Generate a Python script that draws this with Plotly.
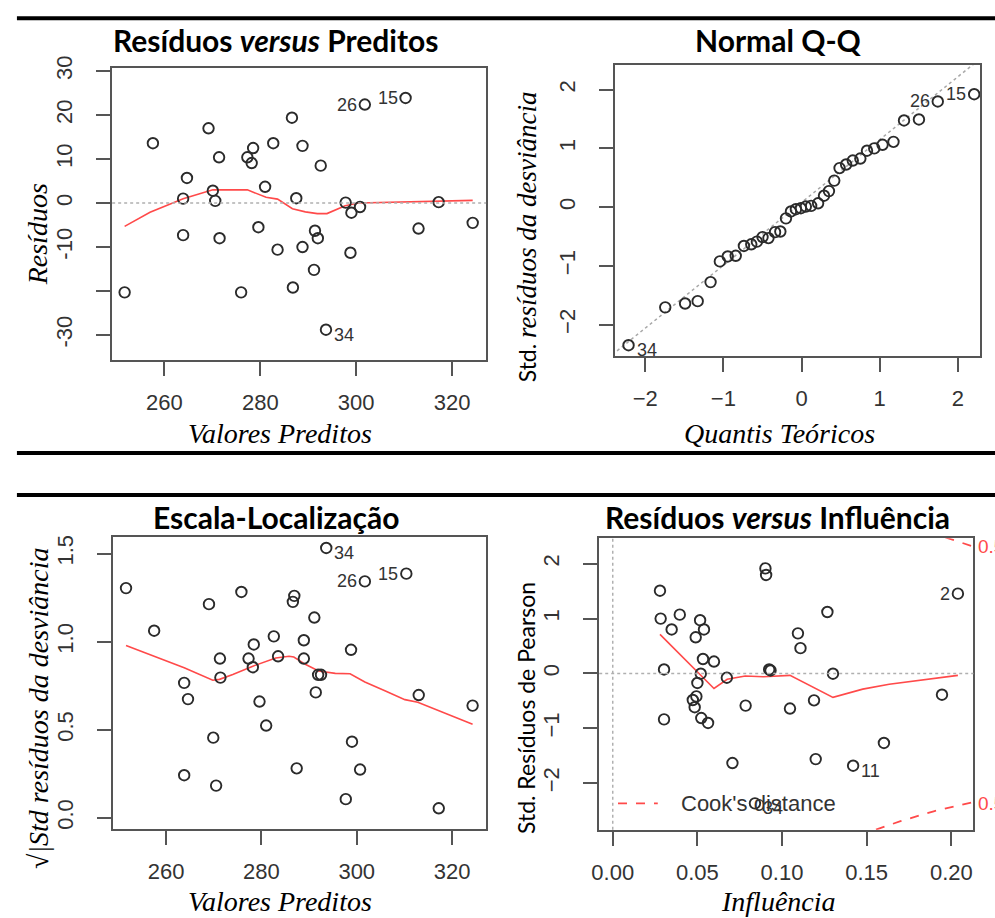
import plotly.graph_objects as go

W, H = 995, 918

# ---------------- Panel 1: Resíduos versus Preditos ----------------
p1_fitted = [251.7, 257.6, 263.9, 263.9, 264.7, 269.2, 270.1, 270.6, 271.4, 271.5, 276.0, 277.3,
             278.2, 278.5, 279.6, 281.0, 282.7, 283.6, 286.6, 286.8, 287.5, 288.8, 288.8, 291.2,
             291.4, 292.0, 292.6, 293.7, 297.8, 298.8, 299.0, 300.8, 301.8, 310.3, 313.0, 317.2, 324.3]
p1_resid = [-20.3, 13.6, 1.0, -7.3, 5.7, 17.0, 2.8, 0.5, 10.4, -8.0, -20.3, 10.4,
            9.1, 12.5, -5.5, 3.7, 13.6, -10.6, 19.4, -19.2, 1.1, 13.0, -10.0, -15.2,
            -6.3, -8.0, 8.5, -28.8, 0.1, -11.3, -2.2, -0.9, 22.4, 23.9, -5.8, 0.2, -4.5]
p1_smooth_x = [251.7, 257.0, 263.9, 270.1, 277.3, 281.2, 283.6, 286.7, 289.4, 291.9, 293.9,
               297.7, 300.5, 311.5, 317.0, 324.3]
p1_smooth_y = [-5.3, -2.1, 1.0, 3.0, 3.0, 1.3, 0.9, -1.3, -2.0, -2.4, -2.4, -0.6, 0.0, 0.2, 0.4, 0.6]
p1_labels = ["34", "26", "15"]
p1_label_idx = [27, 32, 33]
p1_label_side = ["right", "left", "left"]
p1_yticks = [-30, -20, -10, 0, 10, 20, 30]
p1_yticktext = ["-30", "", "-10", "0", "10", "20", "30"]
p1_xticks = [260, 280, 300, 320]

# ---------------- Panel 2: Normal Q-Q ----------------
p2_theor = [-2.214, -1.744, -1.49, -1.329, -1.164, -1.045, -0.944, -0.842, -0.737, -0.643, -0.571,
            -0.499, -0.423, -0.339, -0.271, -0.199, -0.135, -0.072, -0.008, 0.055, 0.123, 0.212,
            0.288, 0.351, 0.419, 0.487, 0.571, 0.656, 0.753, 0.838, 0.931, 1.037, 1.177, 1.312,
            1.503, 1.744, 2.21]
p2_std = [-2.35, -1.706, -1.64, -1.60, -1.276, -0.923, -0.839, -0.828, -0.660, -0.632, -0.587,
          -0.509, -0.526, -0.425, -0.414, -0.190, -0.073, -0.034, -0.017, 0.011, 0.022, 0.067,
          0.196, 0.274, 0.453, 0.666, 0.727, 0.794, 0.828, 0.962, 1.001, 1.063, 1.113, 1.477,
          1.494, 1.801, 1.924]
p2_labels = ["34", "26", "15"]
p2_label_idx = [0, 35, 36]
p2_label_side = ["right", "left", "left"]
p2_qqline_intercept = 0.08
p2_qqline_slope = 1.07
p2_ticks = [-2, -1, 0, 1, 2]

# ---------------- Panel 3: Escala-Localização ----------------
p3_fitted = [251.6, 257.5, 263.8, 264.6, 263.8, 269.0, 269.9, 270.5, 271.3, 271.4, 275.8, 277.3,
             278.4, 278.2, 279.6, 281.0, 282.6, 283.5, 286.9, 286.6, 287.4, 288.9, 288.9, 291.1,
             291.4, 291.9, 292.5, 293.6, 297.7, 298.8, 299.0, 300.7, 301.7, 310.4, 313.0, 317.2, 324.3]
p3_sqrt = [1.304, 1.062, 0.766, 0.674, 0.242, 1.213, 0.455, 0.183, 0.904, 0.796, 1.282, 0.904,
           0.984, 0.855, 0.660, 0.524, 1.030, 0.917, 1.260, 1.226, 0.281, 1.008, 0.904, 1.137,
           0.712, 0.812, 0.812, 1.532, 0.106, 0.954, 0.432, 0.274, 1.342, 1.386, 0.697, 0.054, 0.637]
p3_smooth_x = [251.6, 257.4, 263.8, 269.8, 271.2, 274.0, 278.2, 283.0, 285.8, 286.8, 289.3, 292.0,
               295.5, 298.6, 301.7, 305.9, 310.1, 312.8, 317.0, 324.3]
p3_smooth_y = [0.978, 0.917, 0.852, 0.781, 0.786, 0.814, 0.861, 0.907, 0.917, 0.913, 0.870, 0.833,
               0.820, 0.818, 0.771, 0.721, 0.671, 0.656, 0.609, 0.531]
p3_labels = ["34", "26", "15"]
p3_label_idx = [27, 32, 33]
p3_label_side = ["right", "left", "left"]
p3_yticks = [0.0, 0.5, 1.0, 1.5]
p3_yticktext = ["0.0", "0.5", "1.0", "1.5"]
p3_xticks = [260, 280, 300, 320]

# ---------------- Panel 4: Resíduos versus Influência ----------------
p4_lev = [0.0279, 0.0283, 0.0303, 0.0303, 0.0348, 0.0396, 0.0490, 0.0473, 0.0484, 0.0494, 0.0500,
          0.0516, 0.0520, 0.0523, 0.0539, 0.0533, 0.0563, 0.0598, 0.0674, 0.0707, 0.0785, 0.0902,
          0.0906, 0.0924, 0.0932, 0.1047, 0.1094, 0.1109, 0.1189, 0.1199, 0.1268, 0.1301, 0.1420,
          0.1602, 0.1945, 0.2039, 0.0840]
p4_pearson = [1.509, 1.000, 0.072, -0.838, 0.802, 1.072, 0.659, -0.485, -0.617, -0.419, -0.174,
              0.970, -0.006, -0.814, 0.802, 0.263, -0.904, 0.216, -0.078, -1.635, -0.587, 1.916,
              1.796, 0.072, 0.054, -0.641, 0.731, 0.461, -0.491, -1.563, 1.120, -0.006, -1.683,
              -1.269, -0.389, 1.455, -2.37]
p4_smooth_x = [0.0279, 0.0598, 0.0676, 0.0783, 0.0890, 0.1047, 0.1301, 0.1477, 0.1633, 0.2039]
p4_smooth_y = [0.713, -0.275, -0.108, -0.048, -0.060, -0.036, -0.437, -0.287, -0.198, -0.036]
p4_labels = ["2", "11", "34"]
p4_label_idx = [35, 32, 36]
p4_label_side = ["left", "right", "right"]
p4_cook_top_x = [0.1965, 0.2125]
p4_cook_top_y = [2.48, 2.32]
p4_cook_bot_x = [0.1555, 0.170, 0.1896, 0.200, 0.2125]
p4_cook_bot_y = [-2.85, -2.695, -2.515, -2.44, -2.35]
p4_cook_level = "0.5"
p4_yticks = [-2, -1, 0, 1, 2]
p4_xticks = [0.00, 0.05, 0.10, 0.15, 0.20]
p4_xticktext = ["0.00", "0.05", "0.10", "0.15", "0.20"]

# ---------------- styling ----------------
PT = "#2b2b2b"
RED = "#ff4a4a"
BOX = "#555555"
TICKFONT = dict(family="Liberation Sans, Arial", size=22, color="#333333")
SERIF = "Liberation Serif, Times New Roman, serif"
SANS = "Lato, Open Sans, sans-serif"


def px_x(x):
    return x / W


def px_y(y):
    return 1 - y / H


fig = go.Figure()


def scatter(xs, ys, ax):
    fig.add_trace(go.Scatter(
        x=xs, y=ys, mode="markers", xaxis="x" + ax, yaxis="y" + ax,
        marker=dict(symbol="circle-open", size=10.5, color=PT, line=dict(width=1.9, color=PT)),
        showlegend=False, hoverinfo="skip"))


def line(xs, ys, ax, color=RED, dash="solid", width=1.6):
    fig.add_trace(go.Scatter(
        x=xs, y=ys, mode="lines", xaxis="x" + ax, yaxis="y" + ax,
        line=dict(color=color, width=width, dash=dash),
        showlegend=False, hoverinfo="skip"))


def labels(xs, ys, labs, idx, sides, ax):
    for lab, i, side in zip(labs, idx, sides):
        fig.add_annotation(
            x=xs[i], y=ys[i], xref="x" + ax, yref="y" + ax, text=lab, showarrow=False,
            xanchor="left" if side == "right" else "right",
            xshift=6 if side == "right" else -6,
            yshift=-5 if side == "right" else 0,
            font=dict(family="Liberation Sans, Arial", size=18, color="#333333"))


# panel 1
line(p1_smooth_x, p1_smooth_y, "")
scatter(p1_fitted, p1_resid, "")
labels(p1_fitted, p1_resid, p1_labels, p1_label_idx, p1_label_side, "")

# panel 2
qx = [-2.6, 2.4]
qy = [p2_qqline_intercept + p2_qqline_slope * v for v in qx]
line(qx, qy, "2", color="#a8a8a8", dash="dot", width=1.5)
scatter(p2_theor, p2_std, "2")
labels(p2_theor, p2_std, p2_labels, p2_label_idx, p2_label_side, "2")

# panel 3
line(p3_smooth_x, p3_smooth_y, "3")
scatter(p3_fitted, p3_sqrt, "3")
labels(p3_fitted, p3_sqrt, p3_labels, p3_label_idx, p3_label_side, "3")

# panel 4
line(p4_smooth_x, p4_smooth_y, "4")
line(p4_cook_top_x, p4_cook_top_y, "4", dash="dash", width=1.8)
line(p4_cook_bot_x, p4_cook_bot_y, "4", dash="dash", width=1.8)
scatter(p4_lev, p4_pearson, "4")
labels(p4_lev, p4_pearson, p4_labels, p4_label_idx, p4_label_side, "4")

# reference lines
shapes = []
shapes.append(dict(type="line", xref="x domain", yref="y", x0=0, x1=1, y0=0, y1=0,
                   line=dict(color="#b0b0b0", width=1.5, dash="dot")))
shapes.append(dict(type="line", xref="x4 domain", yref="y4", x0=0, x1=1, y0=0, y1=0,
                   line=dict(color="#b0b0b0", width=1.5, dash="dot")))
shapes.append(dict(type="line", xref="x4", yref="y4 domain", x0=0, x1=0, y0=0, y1=1,
                   line=dict(color="#b0b0b0", width=1.5, dash="dot")))
# legend line for Cook's distance
shapes.append(dict(type="line", xref="x4", yref="y4", x0=0.0031, x1=0.0266, y0=-2.37, y1=-2.37,
                   line=dict(color=RED, width=1.8, dash="dash")))
# thick black separators
for yy in [5.3, 446.7, 489.5]:
    shapes.append(dict(type="line", xref="paper", yref="paper", x0=px_x(9), x1=1.0,
                       y0=px_y(yy), y1=px_y(yy), line=dict(color="black", width=4)))

ann = []
# titles
for txt, cx, cy in [("Resíduos <i>versus</i> Preditos", 270, 27),
                    ("Normal Q-Q", 777, 27),
                    ("Escala-Localização", 271, 512),
                    ("Resíduos <i>versus</i> Influência", 776, 512)]:
    ann.append(dict(text="<b>" + txt + "</b>", x=px_x(cx), y=px_y(cy), xref="paper", yref="paper",
                    xanchor="center", yanchor="middle", showarrow=False,
                    font=dict(family=SANS, size=30, color="black")))

# axis titles
serif_font = dict(family=SERIF, size=28, color="black", style="italic")
for txt, cx, cy, ang in [("Valores Preditos", 274, 427, 0),
                         ("Quantis Teóricos", 778, 427, 0),
                         ("Valores Preditos", 274, 902, 0),
                         ("Influência", 777, 902, 0),
                         ("Resíduos", 30, 225, -90),
                         ("√|Std resíduos da desviância", 30, 706, -90)]:
    ann.append(dict(text=txt, x=px_x(cx), y=px_y(cy), xref="paper", yref="paper",
                    xanchor="center", yanchor="middle", showarrow=False, textangle=ang,
                    font=serif_font))
ann.append(dict(text='Std. <span style="font-family:Liberation Serif;font-style:italic;font-size:27px">resíduos da desviância</span>',
                x=px_x(523), y=px_y(227), xref="paper", yref="paper", xanchor="center",
                yanchor="middle", showarrow=False, textangle=-90,
                font=dict(family=SANS, size=23, color="black")))
ann.append(dict(text="Std. Resíduos de Pearson", x=px_x(522), y=px_y(706), xref="paper",
                yref="paper", xanchor="center", yanchor="middle", showarrow=False,
                textangle=-90, font=dict(family=SANS, size=23, color="black")))

# Cook's distance legend text & 0.5 labels
ann.append(dict(text="Cook's distance", x=0.0393, y=-2.37, xref="x4", yref="y4",
                xanchor="left", yanchor="middle", showarrow=False,
                font=dict(family="Liberation Sans, Arial", size=22, color="#333333")))
for yy in [541.7, 802.7]:
    ann.append(dict(text=p4_cook_level, x=px_x(976), y=px_y(yy), xref="paper", yref="paper",
                    xanchor="left", yanchor="middle", showarrow=False,
                    font=dict(family="Liberation Sans, Arial", size=19, color=RED)))

for a in ann:
    fig.add_annotation(**a)


def axis(domain, rng, tickvals, ticktext=None, yaxis=False, anchor=None):
    d = dict(domain=domain, range=rng, tickvals=tickvals, ticks="outside", ticklen=14,
             tickwidth=2, tickcolor=BOX, showline=True, mirror=True, linecolor=BOX,
             linewidth=2, showgrid=False, zeroline=False, tickfont=TICKFONT,
             anchor=anchor, fixedrange=True)
    if ticktext is not None:
        d["ticktext"] = ticktext
    if yaxis:
        d["tickangle"] = -90
        d["ticklabelstandoff"] = 15
    else:
        d["ticklabelstandoff"] = 8
    return d


fig.update_layout(
    width=W, height=H, margin=dict(l=0, r=0, t=0, b=0),
    paper_bgcolor="white", plot_bgcolor="white", showlegend=False,
    shapes=shapes,
    xaxis=axis([105 / W, 482 / W], [249.1, 327.1], p1_xticks, anchor="y"),
    yaxis=axis([1 - 352 / H, 1 - 56 / H], [-35.6, 30.67], p1_yticks, p1_yticktext, True, anchor="x"),
    xaxis2=axis([611.7 / W, 980 / W], [-2.39, 2.286], p2_ticks, anchor="y2"),
    yaxis2=axis([1 - 348.3 / H, 1 - 52.3 / H], [-2.534, 2.43], p2_ticks, None, True, anchor="x2"),
    xaxis3=axis([106 / W, 482.3 / W], [248.9, 327.2], p3_xticks, anchor="y3"),
    yaxis3=axis([1 - 828.3 / H, 1 - 532.3 / H], [-0.0615, 1.593], p3_yticks, p3_yticktext, True, anchor="x3"),
    xaxis4=axis([596 / W, 973.3 / W], [-0.008, 0.2131], p4_xticks, p4_xticktext, anchor="y4"),
    yaxis4=axis([1 - 829.3 / H, 1 - 533.3 / H], [-2.85, 2.467], p4_yticks, None, True, anchor="x4"),
)

fig.write_html("out.html", config={"displayModeBar": False},
               post_script="document.body.style.margin='0px';")
